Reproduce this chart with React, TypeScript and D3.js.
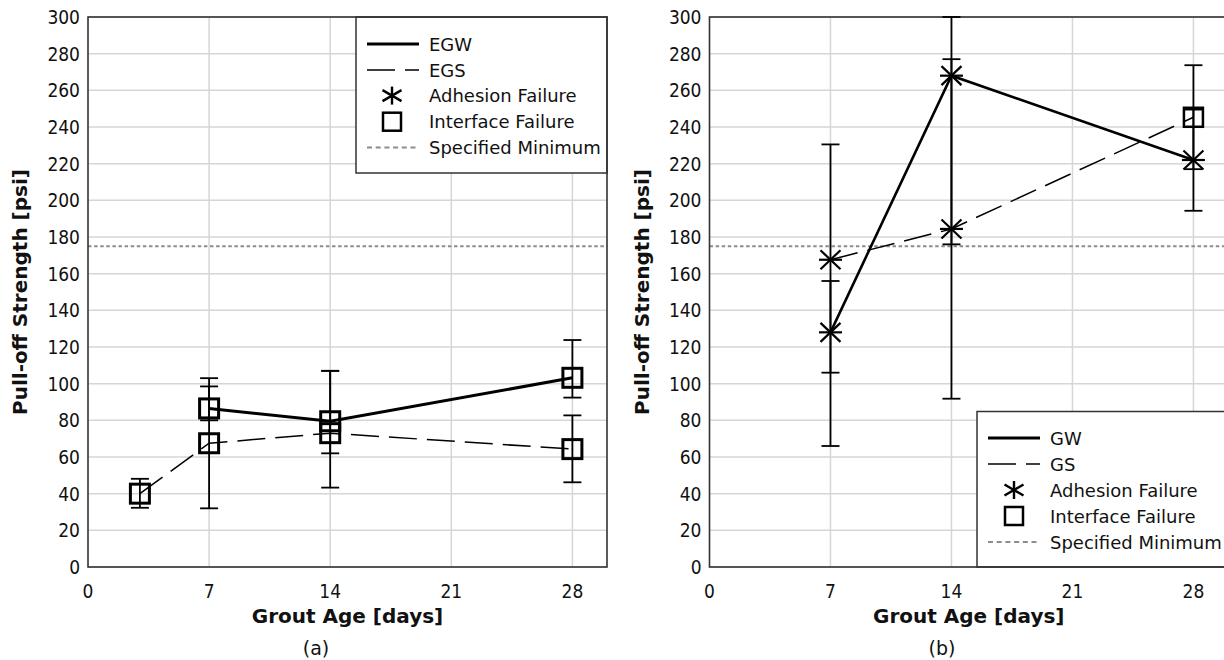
import React, { useEffect, useRef } from 'react';
import * as d3 from 'd3';

const W = 1224;
const H = 660;
const FONT = 'DejaVu Sans, Verdana, sans-serif';
const TICK_FONT = "'DejaVu Sans Condensed', 'DejaVu Sans', sans-serif";

const xTicks = [0, 7, 14, 21, 28];
const yTicks = [0, 20, 40, 60, 80, 100, 120, 140, 160, 180, 200, 220, 240, 260, 280, 300];
const SPEC_MIN = 175;

// (a) epoxy grout series  — 'I' = interface failure, 'A' = adhesion failure
const egwDays = [7, 14, 28];
const egwMean = [86.5, 79.5, 103.2];
const egwLow = [80, 62, 92.4];
const egwHigh = [98.5, 107, 123.8];
const egwFail = ['I', 'I', 'I'];

const egsDays = [3, 7, 14, 28];
const egsMean = [40, 67.5, 73, 64.3];
const egsLow = [32.3, 32, 43.3, 46.2];
const egsHigh = [48.1, 103, 107, 82.7];
const egsFail = ['I', 'I', 'I', 'I'];

// (b) cementitious grout series
const gwDays = [7, 14, 28];
const gwMean = [128, 268, 222];
const gwLow = [106, 176, 194.3];
const gwHigh = [156, 300, 249.5];
const gwFail = ['A', 'A', 'A'];

const gsDays = [7, 14, 28];
const gsMean = [167.6, 184.4, 245.3];
const gsLow = [66, 91.8, 217];
const gsHigh = [230.5, 277, 273.7];
const gsFail = ['A', 'A', 'I'];

const legendA = ['EGW', 'EGS', 'Adhesion Failure', 'Interface Failure', 'Specified Minimum'];
const legendB = ['GW', 'GS', 'Adhesion Failure', 'Interface Failure', 'Specified Minimum'];

const mkSeries = (days, mean, low, high, fail, solid) => ({
  solid,
  points: days.map((d, i) => ({ day: d, mean: mean[i], low: low[i], high: high[i], fail: fail[i] })),
});

const Y_TOP = 17;
const Y_BOT = 567;

const panels = [
  {
    left: 88, right: 607, caption: '(a)', captionX: 316,
    series: [
      mkSeries(egsDays, egsMean, egsLow, egsHigh, egsFail, false),
      mkSeries(egwDays, egwMean, egwLow, egwHigh, egwFail, true),
    ],
    legend: { labels: legendA, x0: 356, x1: 607, y0: Y_TOP, y1: 173, rows: [44, 70, 95.6, 121.7, 147.4], lx: 367, tx: 429, mx: 392 },
    solidW: 3, squareW: 3,
  },
  {
    left: 709.5, right: 1228, caption: '(b)', captionX: 942,
    series: [
      mkSeries(gsDays, gsMean, gsLow, gsHigh, gsFail, false),
      mkSeries(gwDays, gwMean, gwLow, gwHigh, gwFail, true),
    ],
    legend: { labels: legendB, x0: 977, x1: 1240, y0: 411.5, y1: Y_BOT, rows: [438, 464, 490, 516, 542], lx: 988, tx: 1050, mx: 1014 },
    solidW: 2.6, squareW: 2.5,
  },
];

// arms given as half-extents [dx, dy]
function asterisk(g, cx, cy, arms, w) {
  arms.forEach(([dx, dy]) => {
    g.append('line')
      .attr('x1', cx - dx).attr('y1', cy - dy)
      .attr('x2', cx + dx).attr('y2', cy + dy)
      .attr('stroke', '#000').attr('stroke-width', w);
  });
}

function square(g, cx, cy, s, w) {
  g.append('rect')
    .attr('x', cx - s / 2).attr('y', cy - s / 2)
    .attr('width', s).attr('height', s)
    .attr('fill', 'none').attr('stroke', '#000').attr('stroke-width', w);
}

const PLOT_STAR = [[11.5, 0], [10, 9.5], [10, -9.5]];
const LEGEND_STAR = [[0, 9], [9.5, 5.5], [9.5, -5.5]];

function drawPanel(svg, p) {
  const x = d3.scaleLinear().domain([0, 30]).range([p.left, p.right]);
  const y = d3.scaleLinear().domain([0, 300]).range([Y_BOT, Y_TOP]);
  const g = svg.append('g');

  // grid
  yTicks.forEach((t) => {
    g.append('line')
      .attr('x1', x(0)).attr('x2', x(30))
      .attr('y1', y(t)).attr('y2', y(t))
      .attr('stroke', '#d6d6d6').attr('stroke-width', 1.5);
  });
  xTicks.filter((t) => t > 0).forEach((t) => {
    g.append('line')
      .attr('x1', x(t)).attr('x2', x(t))
      .attr('y1', y(0)).attr('y2', y(300))
      .attr('stroke', '#d6d6d6').attr('stroke-width', 1.5);
  });

  // specified minimum
  g.append('line')
    .attr('x1', x(0)).attr('x2', x(30))
    .attr('y1', y(SPEC_MIN)).attr('y2', y(SPEC_MIN))
    .attr('stroke', '#8c8c8c').attr('stroke-width', 2).attr('stroke-dasharray', '3.5,2.6');

  // legend box
  const L = p.legend;
  g.append('rect')
    .attr('x', L.x0).attr('y', L.y0)
    .attr('width', L.x1 - L.x0).attr('height', L.y1 - L.y0)
    .attr('fill', '#fff').attr('stroke', '#333').attr('stroke-width', 1.5);
  L.labels.forEach((lab, i) => {
    const yy = L.rows[i];
    if (i === 0) {
      g.append('line').attr('x1', L.lx).attr('x2', L.lx + 52).attr('y1', yy).attr('y2', yy)
        .attr('stroke', '#000').attr('stroke-width', 3);
    } else if (i === 1) {
      g.append('line').attr('x1', L.lx).attr('x2', L.lx + 52).attr('y1', yy).attr('y2', yy)
        .attr('stroke', '#000').attr('stroke-width', 1.5).attr('stroke-dasharray', '28,10');
    } else if (i === 2) {
      asterisk(g, L.mx, yy, LEGEND_STAR, 2.4);
    } else if (i === 3) {
      square(g, L.mx, yy, 18, 2.5);
    } else {
      g.append('line').attr('x1', L.lx).attr('x2', L.lx + 52).attr('y1', yy).attr('y2', yy)
        .attr('stroke', '#8c8c8c').attr('stroke-width', 2).attr('stroke-dasharray', '5,3.7');
    }
    g.append('text')
      .attr('x', L.tx).attr('y', yy)
      .attr('dominant-baseline', 'central')
      .attr('font-family', FONT).attr('font-size', 18).attr('fill', '#111')
      .text(lab);
  });

  // frame
  g.append('rect')
    .attr('x', x(0)).attr('y', y(300))
    .attr('width', x(30) - x(0)).attr('height', y(0) - y(300))
    .attr('fill', 'none').attr('stroke', '#333').attr('stroke-width', 1.6);

  // tick labels
  yTicks.forEach((t) => {
    g.append('text')
      .attr('x', x(0) - 8).attr('y', y(t))
      .attr('text-anchor', 'end').attr('dominant-baseline', 'central')
      .attr('font-family', TICK_FONT).attr('font-stretch', 'condensed').attr('font-size', 19).attr('fill', '#111')
      .text(t);
  });
  xTicks.forEach((t) => {
    g.append('text')
      .attr('x', x(t)).attr('y', 591)
      .attr('text-anchor', 'middle').attr('dominant-baseline', 'central')
      .attr('font-family', TICK_FONT).attr('font-stretch', 'condensed').attr('font-size', 19).attr('fill', '#111')
      .text(t);
  });

  // axis titles
  g.append('text')
    .attr('x', (x(0) + x(30)) / 2).attr('y', 616)
    .attr('text-anchor', 'middle').attr('dominant-baseline', 'central')
    .attr('font-family', FONT).attr('font-size', 20).attr('font-weight', 'bold').attr('fill', '#111')
    .text('Grout Age [days]');
  const ty = (Y_TOP + Y_BOT) / 2;
  const tx = p.left - 68;
  g.append('text')
    .attr('transform', `translate(${tx},${ty}) rotate(-90)`)
    .attr('text-anchor', 'middle').attr('dominant-baseline', 'central')
    .attr('font-family', FONT).attr('font-size', 20).attr('font-weight', 'bold').attr('fill', '#111')
    .text('Pull-off Strength [psi]');
  g.append('text')
    .attr('x', p.captionX).attr('y', 648)
    .attr('text-anchor', 'middle').attr('dominant-baseline', 'central')
    .attr('font-family', FONT).attr('font-size', 19).attr('fill', '#111')
    .text(p.caption);

  // data
  const line = d3.line().x((d: any) => x(d.day)).y((d: any) => y(d.mean));
  p.series.forEach((s) => {
    g.append('path')
      .attr('d', line(s.points))
      .attr('fill', 'none').attr('stroke', '#000')
      .attr('stroke-width', s.solid ? p.solidW : 1.5)
      .attr('stroke-dasharray', s.solid ? null : '28,10');
  });
  p.series.forEach((s) => {
    s.points.forEach((d) => {
      const cx = x(d.day);
      g.append('line').attr('x1', cx).attr('x2', cx).attr('y1', y(d.low)).attr('y2', y(d.high))
        .attr('stroke', '#000').attr('stroke-width', 1.8);
      [d.low, d.high].forEach((v) => {
        g.append('line').attr('x1', cx - 9).attr('x2', cx + 9).attr('y1', y(v)).attr('y2', y(v))
          .attr('stroke', '#000').attr('stroke-width', 1.8);
      });
    });
  });
  p.series.forEach((s) => {
    s.points.forEach((d) => {
      if (d.fail === 'I') square(g, x(d.day), y(d.mean), 19, p.squareW);
      else asterisk(g, x(d.day), y(d.mean), PLOT_STAR, 2.2);
    });
  });
}

export default function App() {
  const ref = useRef(null);
  useEffect(() => {
    const svg = d3.select(ref.current);
    svg.selectAll('*').remove();
    svg.append('rect').attr('width', W).attr('height', H).attr('fill', '#fff');
    panels.forEach((p) => drawPanel(svg, p));
  }, []);
  return (
    <svg ref={ref} width={W} height={H} style={{ position: 'absolute', left: 0, top: 0, display: 'block' }} />
  );
}
